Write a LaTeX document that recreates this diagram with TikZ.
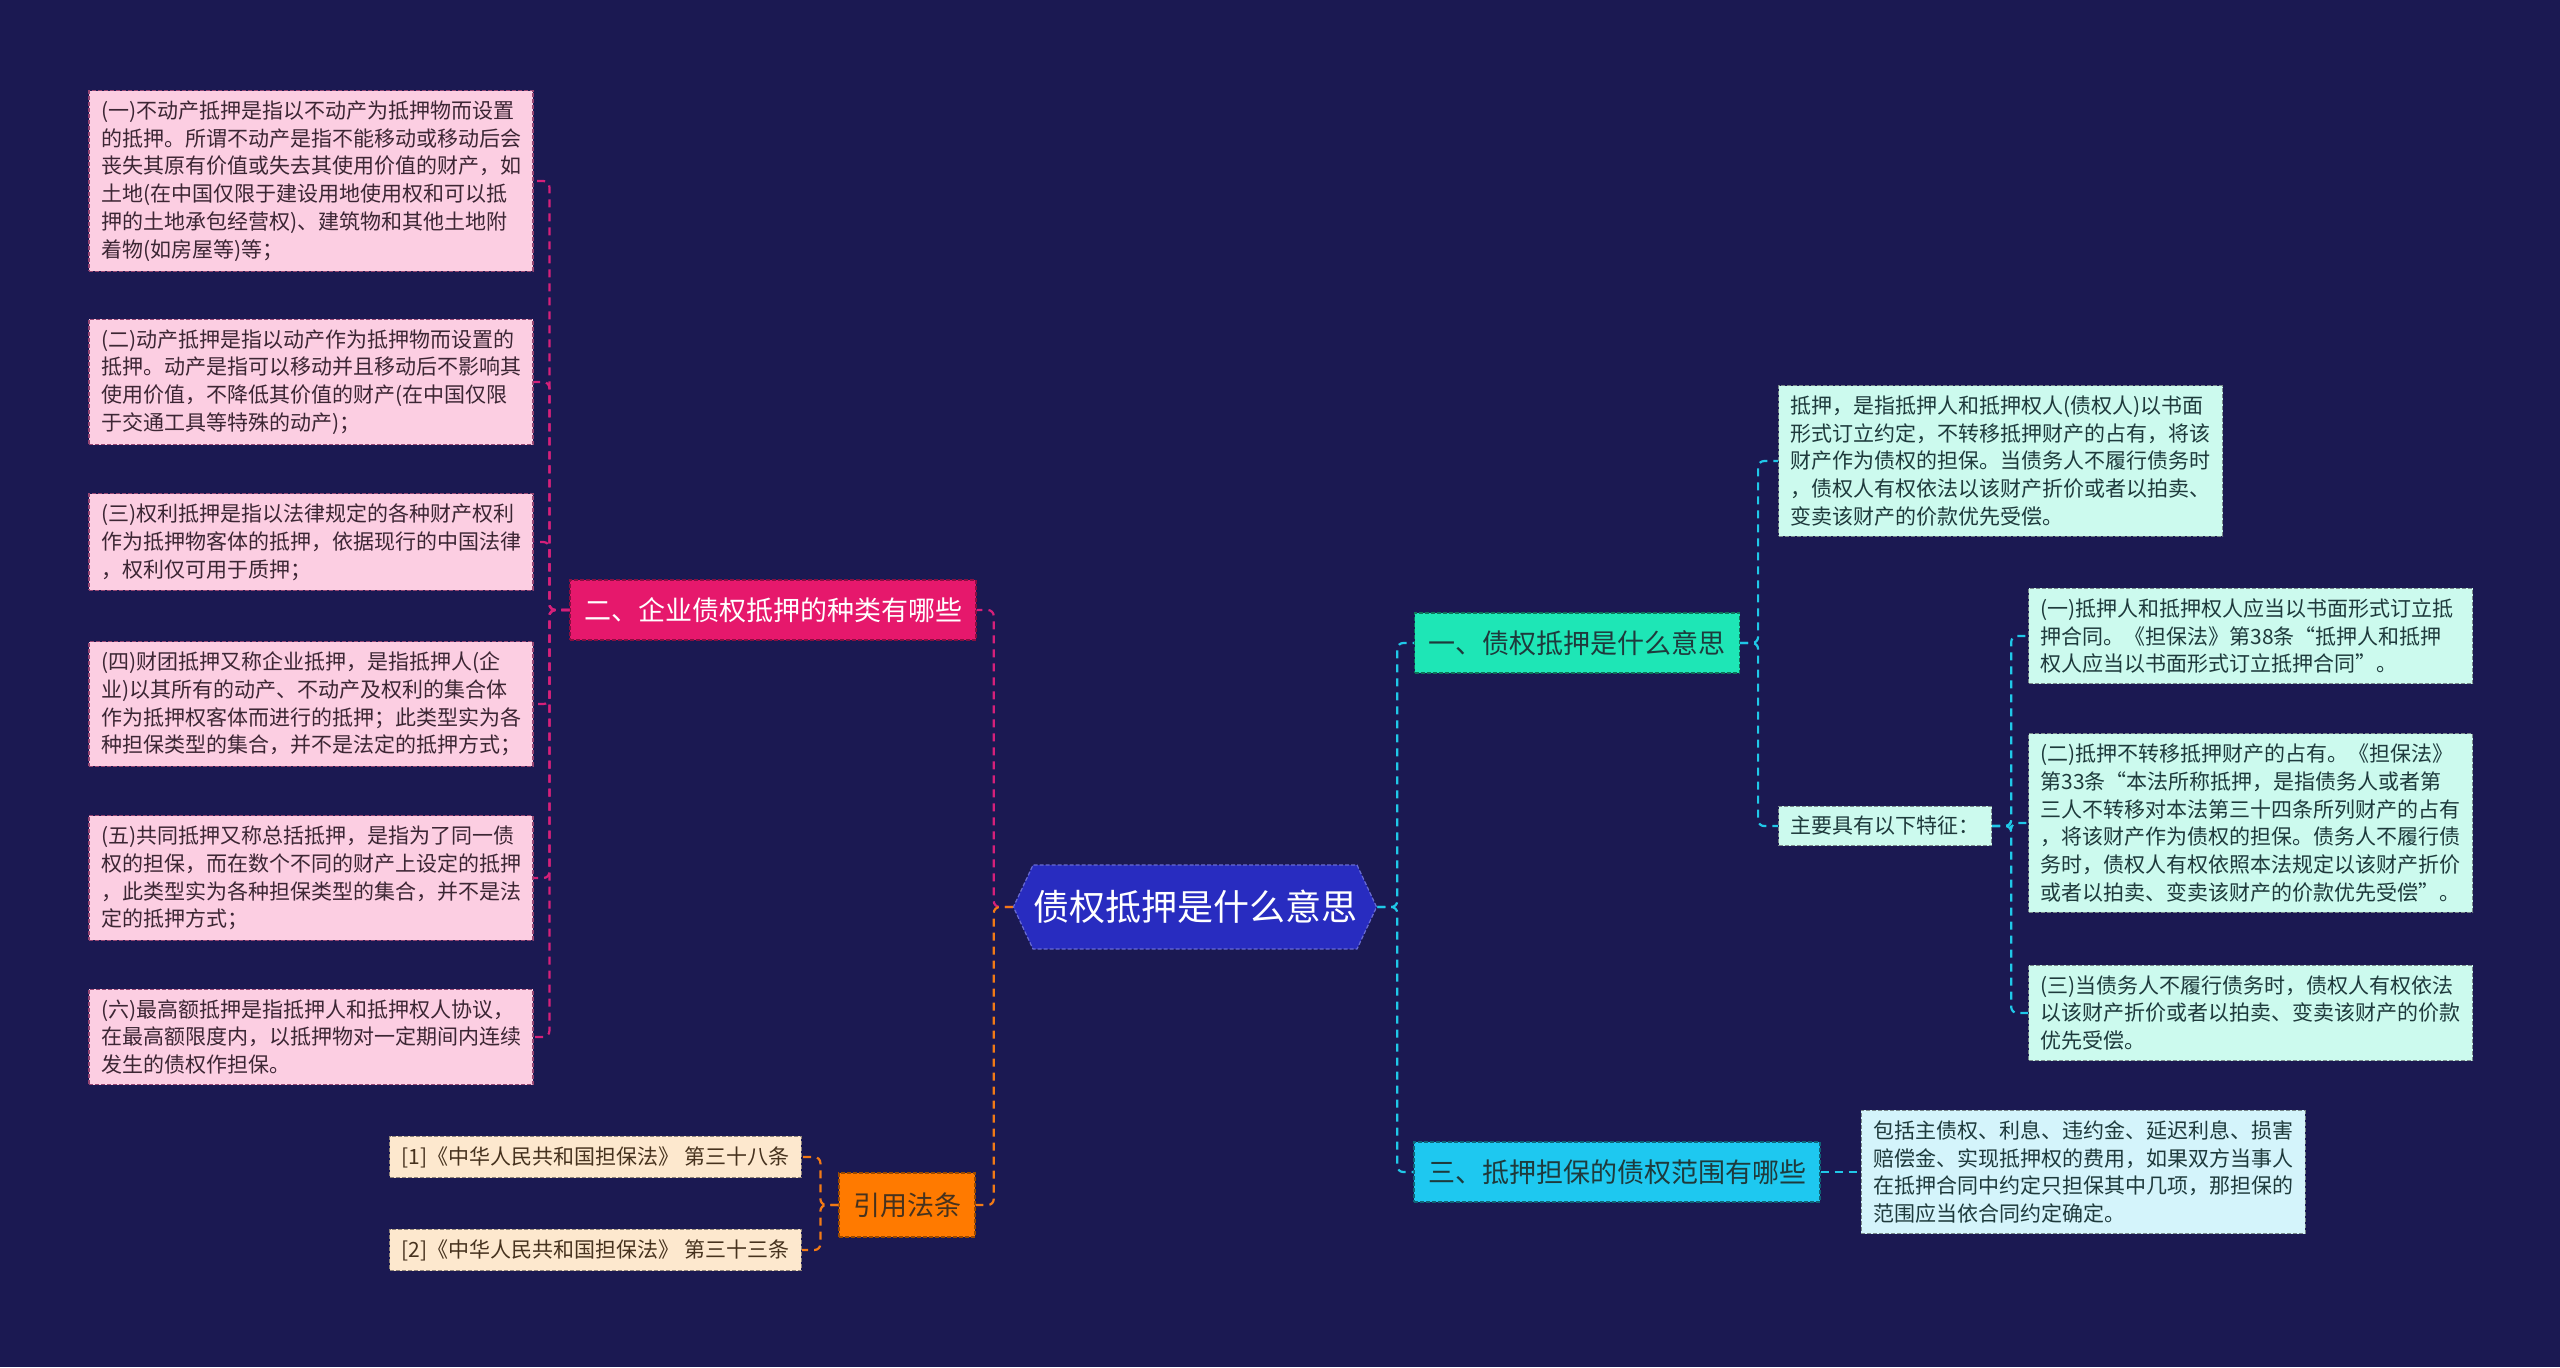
\documentclass[tikz,border=0pt]{standalone}
\usepackage{fontspec}
\setmainfont{Noto Sans CJK SC}
\usetikzlibrary{positioning,shapes.symbols}
\usepackage{xcolor}
\definecolor{bg}{RGB}{27,25,82}
\definecolor{pkfill}{RGB}{252,206,226}
\definecolor{pkedge}{RGB}{150,70,115}
\definecolor{pktext}{RGB}{60,38,52}
\definecolor{magline}{RGB}{214,32,122}
\definecolor{magfill}{RGB}{230,24,108}
\definecolor{orfill}{RGB}{255,122,0}
\definecolor{orline}{RGB}{242,122,22}
\definecolor{pefill}{RGB}{253,232,206}
\definecolor{petext}{RGB}{70,50,30}
\definecolor{rootfill}{RGB}{40,44,192}
\definecolor{onefill}{RGB}{30,230,182}
\definecolor{threefill}{RGB}{30,200,240}
\definecolor{cyline}{RGB}{32,200,232}
\definecolor{mtfill}{RGB}{204,250,238}
\definecolor{scfill}{RGB}{212,244,251}
\definecolor{mttext}{RGB}{30,58,60}

\begin{document}
\begin{tikzpicture}[x=0.5pt,y=-0.5pt,
  every node/.style={align=left,inner xsep=6pt,inner ysep=5pt,},%
  sm/.style={font=\fontsize{10.5pt}{13.9pt}\selectfont,},%
  bd/.style={dash pattern=on 2pt off 1pt,line width=0.6pt,},%
  tb/.style={sm,bd,text width=210pt,},%
  pk/.style={tb,fill=pkfill,draw=pkedge,text=pktext,},%
  mt/.style={tb,fill=mtfill,draw=mttext!60,text=mttext,},%
  pe/.style={sm,bd,fill=pefill,draw=petext!60,text=petext,},%
  br/.style={bd,font=\fontsize{13.5pt}{16pt}\selectfont,minimum height=30pt,
    inner xsep=7pt,},%
  e/.style={line width=1.1pt,dash pattern=on 4pt off 3pt,rounded corners=3pt,},%
  le/.style={e,draw=magline,},%
  oe/.style={e,draw=orline,},%
  ce/.style={e,draw=cyline,},%
  ]

  \fill[bg] (0,0) rectangle (2560,1367);
  \useasboundingbox (0,0) rectangle (2560,1367);

  \node (root) [shape=signal,signal to=west and east,signal pointer angle=130,
  fill=rootfill,draw=rootfill!70!white,bd,text=white,inner xsep=0pt,minimum height=42pt,
  font=\fontsize{18pt}{20pt}\selectfont] at (1195,907) {债权抵押是什么意思};

  \node (two) [br,fill=magfill,draw=magfill!60!black,text=white] at (773,610) {二、企业债权抵押的种类有哪些};
  \node (cite) [br,fill=orfill,draw=orfill!60!black,text=petext,minimum height=32pt] at (907,1205) {引用法条};
  \node (one) [br,fill=onefill,draw=onefill!50!black,text=mttext] at (1577,643) {一、债权抵押是什么意思};
  \node (three) [br,fill=threefill,draw=threefill!50!black,text=mttext] at (1617,1172) {三、抵押担保的债权范围有哪些};

  \node (l1) [pk] at (311,181) {(一)不动产抵押是指以不动产为抵押物而设置\\的抵押。所谓不动产是指不能移动或移动后会\\丧失其原有价值或失去其使用价值的财产，如\\土地(在中国仅限于建设用地使用权和可以抵\\押的土地承包经营权)、建筑物和其他土地附\\着物(如房屋等)等；};
  \node (l2) [pk] at (311,382) {(二)动产抵押是指以动产作为抵押物而设置的\\抵押。动产是指可以移动并且移动后不影响其\\使用价值，不降低其价值的财产(在中国仅限\\于交通工具等特殊的动产)；};
  \node (l3) [pk] at (311,542) {(三)权利抵押是指以法律规定的各种财产权利\\作为抵押物客体的抵押，依据现行的中国法律\\，权利仅可用于质押；};
  \node (l4) [pk] at (311,704) {(四)财团抵押又称企业抵押，是指抵押人(企\\业)以其所有的动产、不动产及权利的集合体\\作为抵押权客体而进行的抵押；此类型实为各\\种担保类型的集合，并不是法定的抵押方式；};
  \node (l5) [pk] at (311,878) {(五)共同抵押又称总括抵押，是指为了同一债\\权的担保，而在数个不同的财产上设定的抵押\\，此类型实为各种担保类型的集合，并不是法\\定的抵押方式；};
  \node (l6) [pk] at (311,1037) {(六)最高额抵押是指抵押人和抵押权人协议，\\在最高额限度内，以抵押物对一定期间内连续\\发生的债权作担保。};

  \node (r1) [pe,anchor=east] at (802,1157) {[1]《中华人民共和国担保法》 第三十八条};
  \node (r2) [pe,anchor=east] at (802,1250) {[2]《中华人民共和国担保法》 第三十三条};

  \node (def) [mt,anchor=west] at (1778,461) {抵押，是指抵押人和抵押权人(债权人)以书面\\形式订立约定，不转移抵押财产的占有，将该\\财产作为债权的担保。当债务人不履行债务时\\，债权人有权依法以该财产折价或者以拍卖、\\变卖该财产的价款优先受偿。};
  \node (feat) [sm,bd,fill=mtfill,draw=mttext!60,text=mttext,anchor=west] at (1778,826) {主要具有以下特征：};

  \node (s1) [mt,anchor=west] at (2028,636) {(一)抵押人和抵押权人应当以书面形式订立抵\\押合同。《担保法》第38条“抵押人和抵押\\权人应当以书面形式订立抵押合同”。};
  \node (s2) [mt,anchor=west] at (2028,823) {(二)抵押不转移抵押财产的占有。《担保法》\\第33条“本法所称抵押，是指债务人或者第\\三人不转移对本法第三十四条所列财产的占有\\，将该财产作为债权的担保。债务人不履行债\\务时，债权人有权依照本法规定以该财产折价\\或者以拍卖、变卖该财产的价款优先受偿”。};
  \node (s3) [mt,anchor=west] at (2028,1013) {(三)当债务人不履行债务时，债权人有权依法\\以该财产折价或者以拍卖、变卖该财产的价款\\优先受偿。};

  \node (scope) [tb,fill=scfill,draw=mttext!60,text=mttext,right=20pt of three] {包括主债权、利息、违约金、延迟利息、损害\\赔偿金、实现抵押权的费用，如果双方当事人\\在抵押合同中约定只担保其中几项，那担保的\\范围应当依合同约定确定。};

  \draw [le] (root.west) -- ++(-19,0) |- (two.east);
  \draw [oe] (root.west) -- ++(-19,0) |- (cite.east);
  \draw [ce] (root.east) -- ++(20,0) |- (one.west);
  \draw [ce] (root.east) -- ++(20,0) |- (three.west);
  \foreach \n in {l1,l2,l3,l4,l5,l6}
    \draw [le] (two.west) -- ++(-20,0) |- (\n.east);
  \draw [oe] (cite.west) -- ++(-18,0) |- (r1.east);
  \draw [oe] (cite.west) -- ++(-18,0) |- (r2.east);
  \draw [ce] (one.east) -- ++(18,0) |- (def.west);
  \draw [ce] (one.east) -- ++(18,0) |- (feat.west);
  \foreach \n in {s1,s2,s3}
    \draw [ce] (feat.east) -- ++(19,0) |- (\n.west);
  \draw [ce] (three.east) -- (scope.west);
\end{tikzpicture}
\end{document}
